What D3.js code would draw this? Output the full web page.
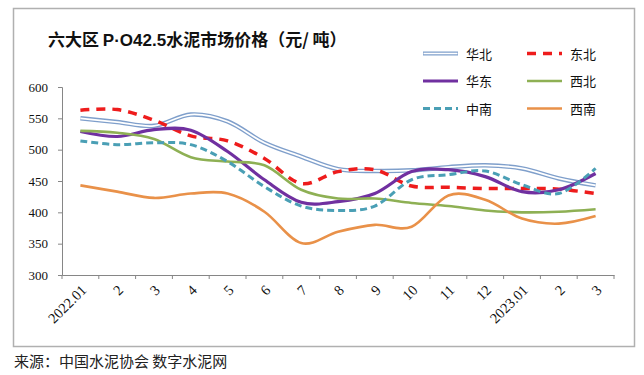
<!DOCTYPE html>
<html>
<head>
<meta charset="utf-8">
<script src="https://cdn.jsdelivr.net/npm/d3@7"></script>
<style>
  body { margin: 0; background: #fff; }
  svg { display: block; }
</style>
</head>
<body>
<div id="chart"></div>
<script>
// categories (months) and y ticks
const months = ["2022.01", "2", "3", "4", "5", "6", "7", "8", "9", "10", "11", "12", "2023.01", "2", "3"];
const yTicks = [300, 350, 400, 450, 500, 550, 600];

// regional prices, yuan per ton
const huabei   = [550, 544, 538, 556, 545, 511, 489, 469, 466, 467, 472, 475, 470, 454, 443];
const dongbei  = [563, 564, 547, 522, 514, 486, 446, 465, 468, 442, 440, 438, 438, 437, 430];
const huadong  = [529, 521, 532, 531, 497, 452, 416, 417, 430, 465, 468, 457, 433, 436, 462];
const xibei    = [530, 527, 517, 488, 481, 475, 436, 422, 422, 415, 410, 403, 400, 401, 405];
const zhongnan = [514, 508, 511, 508, 481, 441, 410, 403, 410, 452, 460, 466, 444, 430, 470];
const xinan    = [443, 433, 423, 430, 430, 401, 351, 369, 380, 377, 427, 420, 390, 382, 394];

const seriesNames = ["华北", "东北", "华东", "西北", "中南", "西南"];

const cjk = "'Noto Sans CJK SC', sans-serif";
const serif = "'Liberation Serif', 'Times New Roman', serif";

class PriceChart {
    constructor(_config) {
        this.config = {
            parentElement: _config.parentElement,
            containerWidth: _config.containerWidth || 644,
            containerHeight: _config.containerHeight || 375,
            margin: { top: 87, right: 23, bottom: 100, left: 62 }
        };
        this.initVis();
    }

    initVis() {
        const vis = this;
        const m = vis.config.margin;
        vis.width = 552;
        vis.height = 188;

        vis.root = d3.select(vis.config.parentElement).append("svg")
            .attr("width", vis.config.containerWidth)
            .attr("height", vis.config.containerHeight);

        // outer frame
        vis.root.append("rect")
            .attr("x", 13.5).attr("y", 8.5)
            .attr("width", 621).attr("height", 338)
            .attr("fill", "#fff")
            .attr("stroke", "#b0b0b0")
            .attr("stroke-width", 1.5);

        const title = vis.root.append("text")
            .attr("x", 48).attr("y", 46)
            .style("font-family", cjk)
            .style("font-size", "17px")
            .style("font-weight", "bold")
            .attr("fill", "#111");
        title.append("tspan").text("六大区 ");
        title.append("tspan").style("font-family", "'Liberation Sans', Arial, sans-serif").text("P·O42.5");
        title.append("tspan").text("水泥市场价格（元/ 吨）");

        vis.root.append("text")
            .attr("x", 14).attr("y", 367)
            .style("font-family", cjk)
            .style("font-size", "15px")
            .attr("fill", "#222")
            .text("来源：中国水泥协会 数字水泥网");

        vis.svg = vis.root.append("g")
            .attr("transform", `translate(${m.left}, ${m.top})`);

        vis.xScale = d3.scaleBand().domain(d3.range(months.length)).range([0, vis.width]);
        vis.yScale = d3.scaleLinear().domain([300, 600]).range([vis.height, 0]);

        vis.xAxis = d3.axisBottom(vis.xScale).tickSize(0).tickFormat(i => months[i]);
        vis.yAxis = d3.axisLeft(vis.yScale).tickValues(yTicks).tickSize(4).tickPadding(10);

        vis.line = d3.line()
            .x((d, i) => vis.xScale(i) + vis.xScale.bandwidth() / 2)
            .y(d => vis.yScale(d))
            .curve(d3.curveCardinal.tension(0));
    }

    renderVis() {
        const vis = this;

        const yG = vis.svg.append("g").call(vis.yAxis);
        yG.selectAll("path, line").attr("stroke", "#868686");
        yG.selectAll("text")
            .style("font-family", serif)
            .style("font-size", "13px")
            .attr("fill", "#111");

        const xG = vis.svg.append("g")
            .attr("transform", `translate(0, ${vis.height})`)
            .call(vis.xAxis);
        xG.select("path").attr("stroke", "#868686");
        // band boundary tick marks
        xG.selectAll(".bound")
            .data(d3.range(months.length + 1))
            .join("line")
            .attr("class", "bound")
            .attr("x1", i => i * vis.xScale.step())
            .attr("x2", i => i * vis.xScale.step())
            .attr("y1", 0).attr("y2", 4)
            .attr("stroke", "#868686");
        xG.selectAll(".tick text")
            .style("font-family", serif)
            .style("font-size", "14.5px")
            .attr("fill", "#111")
            .attr("text-anchor", "end")
            .attr("dy", 0)
            .attr("y", 0)
            .attr("transform", "translate(7, 16) rotate(-45)");

        const lineData = [huabei, dongbei, huadong, xibei, zhongnan, xinan];

        // 华北 drawn as a double line
        vis.svg.append("path").datum(lineData[0])
            .attr("fill", "none").attr("stroke", "#7f9fcb").attr("stroke-width", 4.5)
            .attr("d", vis.line);
        vis.svg.append("path").datum(lineData[0])
            .attr("fill", "none").attr("stroke", "#fff").attr("stroke-width", 1.8)
            .attr("d", vis.line);

        const styles = [
            null,
            { color: "#ee1c1c", width: 3.5, dash: "9,7" },
            { color: "#7030a0", width: 3.2, dash: null },
            { color: "#8eb054", width: 2.6, dash: null },
            { color: "#4a9fb5", width: 3, dash: "7,4" },
            { color: "#e99149", width: 2.6, dash: null }
        ];
        for (let k = 1; k < lineData.length; k++) {
            vis.svg.append("path").datum(lineData[k])
                .attr("fill", "none")
                .attr("stroke", styles[k].color)
                .attr("stroke-width", styles[k].width)
                .attr("stroke-dasharray", styles[k].dash)
                .attr("d", vis.line);
        }

        // legend
        const legend = vis.root.append("g");
        seriesNames.forEach((name, k) => {
            const col = k % 2, row = Math.floor(k / 2);
            const x = 423 + col * 104, y = 53.5 + row * 27.5;
            const g = legend.append("g").attr("transform", `translate(${x}, ${y})`);
            if (k === 0) {
                g.append("line").attr("x1", 0).attr("x2", 35)
                    .attr("stroke", "#7f9fcb").attr("stroke-width", 4);
                g.append("line").attr("x1", 0.5).attr("x2", 34.5)
                    .attr("stroke", "#fff").attr("stroke-width", 1.6);
            } else {
                g.append("line").attr("x1", 0).attr("x2", 35)
                    .attr("stroke", styles[k].color)
                    .attr("stroke-width", styles[k].width)
                    .attr("stroke-dasharray", styles[k].dash);
            }
            g.append("text")
                .attr("x", 43).attr("y", 5)
                .style("font-family", cjk)
                .style("font-size", "13px")
                .attr("fill", "#111")
                .text(name);
        });
    }
}

const chart = new PriceChart({ parentElement: "#chart", containerWidth: 644, containerHeight: 375 });
chart.renderVis();
</script>
</body>
</html>
